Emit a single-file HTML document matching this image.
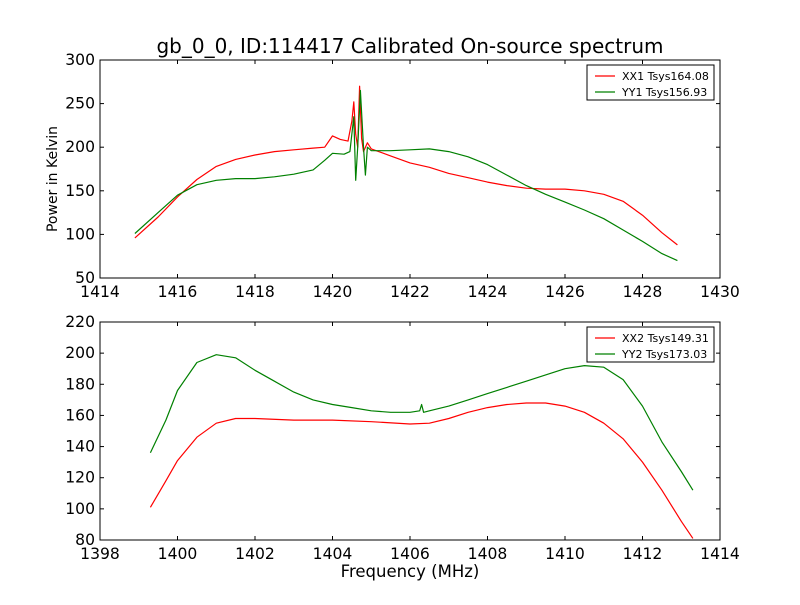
<!DOCTYPE html>
<html><head><meta charset="utf-8"><style>
body{margin:0;background:#fff}
svg text{font-family:"DejaVu Sans","Liberation Sans",sans-serif;fill:#000}
</style></head><body>
<svg id="c" width="800" height="600" xmlns="http://www.w3.org/2000/svg">
<rect width="800" height="600" fill="#fff"/>
<text x="410" y="53" font-size="20" text-anchor="middle">gb_0_0, ID:114417 Calibrated On-source spectrum</text>
<text transform="translate(57,179) rotate(-90)" font-size="14" text-anchor="middle">Power in Kelvin</text>
<text x="410" y="577" font-size="16.5" text-anchor="middle">Frequency (MHz)</text>
</svg>
<script>
const xx1F=[1414.9,1415.5,1416,1416.5,1417,1417.5,1418,1418.5,1419,1419.5,1419.8,1420,1420.2,1420.4,1420.5,1420.55,1420.6,1420.65,1420.7,1420.75,1420.8,1420.9,1421,1421.5,1422,1422.5,1423,1423.5,1424,1424.5,1425,1425.5,1426,1426.5,1427,1427.5,1428,1428.5,1428.9];
const xx1V=[96,120,143,163,178,186,191,195,197,199,200,213,209,207,230,252,215,200,270,210,195,205,198,190,182,177,170,165,160,156,153,152,152,150,146,138,122,102,88];
const yy1F=[1414.9,1415.5,1416,1416.5,1417,1417.5,1418,1418.5,1419,1419.5,1419.8,1420,1420.3,1420.45,1420.55,1420.6,1420.65,1420.72,1420.8,1420.85,1420.9,1421,1421.5,1422,1422.5,1423,1423.5,1424,1424.5,1425,1425.5,1426,1426.5,1427,1427.5,1428,1428.5,1428.9];
const yy1V=[101,125,145,157,162,164,164,166,169,174,185,193,192,195,235,162,200,265,200,168,200,196,196,197,198,195,189,180,168,156,146,137,128,118,105,92,78,70];
const xx2F=[1399.3,1399.7,1400,1400.5,1401,1401.5,1402,1403,1404,1405,1406,1406.5,1407,1407.5,1408,1408.5,1409,1409.5,1410,1410.5,1411,1411.5,1412,1412.5,1413,1413.3];
const xx2V=[101,118,131,146,155,158,158,157,157,156,154.5,155,158,162,165,167,168,168,166,162,155,145,130,112,92,81];
const yy2F=[1399.3,1399.7,1400,1400.5,1401,1401.5,1402,1402.5,1403,1403.5,1404,1404.5,1405,1405.5,1406,1406.25,1406.3,1406.35,1406.5,1407,1407.5,1408,1408.5,1409,1409.5,1410,1410.5,1411,1411.5,1412,1412.5,1413,1413.3];
const yy2V=[136,157,176,194,199,197,189,182,175,170,167,165,163,162,162,163,167,162,163,166,170,174,178,182,186,190,192,191,183,166,143,124,112];
const topXTicks=[1414,1416,1418,1420,1422,1424,1426,1428,1430];
const topYTicks=[50,100,150,200,250,300];
const botXTicks=[1398,1400,1402,1404,1406,1408,1410,1412,1414];
const botYTicks=[80,100,120,140,160,180,200,220];
const NS="http://www.w3.org/2000/svg";
const svg=document.getElementById('c');
function mk(t,a){const e=document.createElementNS(NS,t);for(const k in a)e.setAttribute(k,a[k]);svg.appendChild(e);return e;}
function panel(name,L,T,R,B,x0,x1,y0,y1,xt,yt,series,leg){
 const sx=v=>L+(v-x0)/(x1-x0)*(R-L), sy=v=>B-(v-y0)/(y1-y0)*(B-T);
 series.forEach(s=>{
  const p=mk('path',{d:s.f.map((f,i)=>(i?'L':'M')+sx(f).toFixed(1)+','+sy(s.v[i]).toFixed(1)).join(''),fill:'none',stroke:s.c,'stroke-width':1.2,'stroke-linejoin':'round'});
  
  
 });
 const fr=mk('rect',{x:L,y:T,width:R-L,height:B-T,fill:'none',stroke:'#000','stroke-width':1});
 
 
 xt.forEach(v=>{const x=sx(v);mk('line',{x1:x,x2:x,y1:B,y2:B-4,stroke:'#000'});mk('line',{x1:x,x2:x,y1:T,y2:T+4,stroke:'#000'});
  const t=mk('text',{x:x,y:B+19,'font-size':15.6,'text-anchor':'middle'});t.textContent=v;
  
  });
 yt.forEach(v=>{const y=sy(v);mk('line',{x1:L,x2:L+4,y1:y,y2:y,stroke:'#000'});mk('line',{x1:R,x2:R-4,y1:y,y2:y,stroke:'#000'});
  const t=mk('text',{x:L-5,y:y+5,'font-size':15.6,'text-anchor':'end'});t.textContent=v;
  
  });
 const lx=R-133,ly=T+5;
 const lr=mk('rect',{x:lx,y:ly,width:127,height:35,fill:'#fff',stroke:'#000','stroke-width':1});
 
 
 leg.forEach((l,i)=>{const y=ly+11+i*16;mk('line',{x1:lx+8,x2:lx+28,y1:y,y2:y,stroke:l.c,'stroke-width':1.2});
  const t=mk('text',{x:lx+35,y:y+4,'font-size':11});t.textContent=l.t;
  
  });
}
panel('top-plot',100,60,720,278,1414,1430,50,300,topXTicks,topYTicks,
 [{f:xx1F,v:xx1V,c:'#ff0000',n:'xx1-line'},{f:yy1F,v:yy1V,c:'#008000',n:'yy1-line'}],
 [{c:'#ff0000',t:'XX1 Tsys164.08'},{c:'#008000',t:'YY1 Tsys156.93'}]);
panel('bottom-plot',100,322,720,540,1398,1414,80,220,botXTicks,botYTicks,
 [{f:xx2F,v:xx2V,c:'#ff0000',n:'xx2-line'},{f:yy2F,v:yy2V,c:'#008000',n:'yy2-line'}],
 [{c:'#ff0000',t:'XX2 Tsys149.31'},{c:'#008000',t:'YY2 Tsys173.03'}]);
</script>
</body></html>
